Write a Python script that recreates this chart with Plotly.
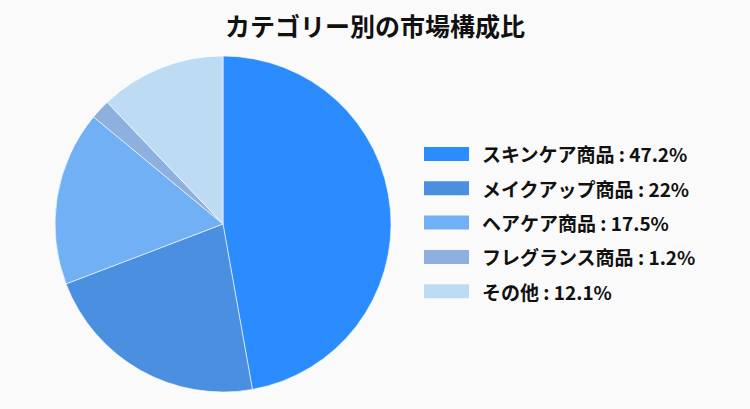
import plotly.graph_objects as go

categories = ["スキンケア商品", "メイクアップ商品", "ヘアケア商品", "フレグランス商品", "その他"]
# percentages printed in the legend
legend_pct = [47.2, 22, 17.5, 1.2, 12.1]
# slice sizes as drawn in the picture (small slice is drawn wider than its share)
slice_share = [47.2, 22.0, 16.8, 1.9, 12.1]
colors = ["#2A8CFF", "#4A8FE0", "#71B0F4", "#8DB0DF", "#BEDBF4"]
title_text = "カテゴリー別の市場構成比"

W, H = 750, 409
FONT = "Noto Sans CJK JP"

fig = go.Figure()
fig.add_trace(go.Pie(
    labels=categories,
    values=slice_share,
    customdata=legend_pct,
    sort=False,
    direction="clockwise",
    rotation=0,
    marker=dict(colors=colors, line=dict(color="rgba(255,255,255,0.6)", width=1)),
    textinfo="none",
    hovertemplate="%{label}: %{customdata}%<extra></extra>",
    showlegend=False,
    domain=dict(x=[55 / W, 391 / W], y=[(H - 392) / H, (H - 56) / H]),
))

# custom legend (wide swatches)
x0, x1, xt = 424, 469, 480
y_start, dy = 154, 34.3
for i, (c, v, col) in enumerate(zip(categories, legend_pct, colors)):
    yc = y_start + i * dy
    fig.add_shape(type="rect", xref="paper", yref="paper",
                  x0=x0 / W, x1=x1 / W, y0=(H - yc - 7) / H, y1=(H - yc + 7) / H,
                  fillcolor=col, line=dict(width=0))
    fig.add_annotation(xref="paper", yref="paper", x=xt / W, y=(H - yc) / H,
                       xanchor="left", yanchor="middle", showarrow=False,
                       text=f"<b>{c} : {v:g}%</b>",
                       font=dict(family=FONT, size=19, color="#111111"))

fig.update_layout(
    width=W, height=H,
    margin=dict(l=0, r=0, t=0, b=0),
    paper_bgcolor="#FAFAFA",
    plot_bgcolor="#FAFAFA",
    title=dict(text=f"<b>{title_text}</b>", x=0.5, xanchor="center",
               y=(H - 27) / H, yanchor="middle",
               font=dict(family=FONT, size=25, color="#111111")),
    font=dict(family=FONT),
)

fig.write_html(
    "out.html",
    config={"displayModeBar": False},
    post_script="document.body.style.margin='0';document.body.style.background='#FAFAFA';",
)
